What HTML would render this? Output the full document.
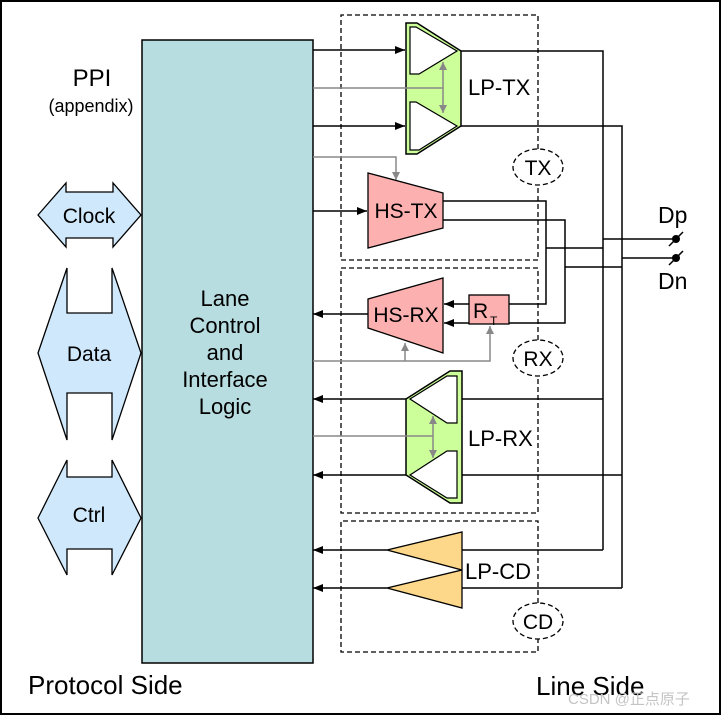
<!DOCTYPE html><html><head><style>body{margin:0;background:#fff}svg{display:block}text{font-family:"Liberation Sans","Noto Sans CJK SC",sans-serif}</style></head><body>
<svg width="721" height="716" viewBox="0 0 721 716" xmlns="http://www.w3.org/2000/svg">
<defs>
<marker id="a" markerWidth="10" markerHeight="8" refX="10" refY="4" orient="auto" markerUnits="userSpaceOnUse"><path d="M0,0L10,4L0,8z" fill="#000"/></marker>
<marker id="g" markerWidth="8" markerHeight="8" refX="8" refY="4" orient="auto-start-reverse" markerUnits="userSpaceOnUse"><path d="M0,0L8,4L0,8z" fill="#888"/></marker>
</defs>
<rect x="1" y="1" width="719" height="713" fill="#fff" stroke="#000" stroke-width="2"/>
<g fill="#cfe8fb" stroke="#000" stroke-width="1.3">
<path d="M38,215L66,183V192H113V183L141,215L113,247V238H66V247Z"/>
<path d="M38,353L67,268V313H112V268L141,353L112,440V393H67V440Z"/>
<path d="M38,518L67,460V477H112V460L141,518L112,575V549H67V575Z"/>
</g>
<text x="89" y="223" font-size="21" text-anchor="middle">Clock</text>
<text x="89" y="361" font-size="21" text-anchor="middle">Data</text>
<text x="89" y="522" font-size="21" text-anchor="middle">Ctrl</text>
<text x="92" y="86" font-size="24" text-anchor="middle">PPI</text>
<text x="91" y="112" font-size="18" text-anchor="middle">(appendix)</text>
<rect x="142" y="40" width="171" height="623" fill="#b8dde0" stroke="#000" stroke-width="1.5"/>
<g font-size="22" text-anchor="middle"><text x="225" y="306">Lane</text><text x="225" y="333">Control</text><text x="225" y="360">and</text><text x="225" y="387">Interface</text><text x="225" y="414">Logic</text></g>
<g fill="none" stroke="#000" stroke-width="1.3" stroke-dasharray="5,3">
<path d="M538,149V15H341V260H538V185"/>
<ellipse cx="538" cy="167" rx="25" ry="18"/>
<path d="M538,340V268H341V513H538V376"/>
<ellipse cx="538" cy="358" rx="25" ry="18"/>
<path d="M538,603V521H341V652H538V639"/>
<ellipse cx="538" cy="621" rx="25" ry="18"/>
</g>
<g font-size="21" text-anchor="middle"><text x="538" y="175">TX</text><text x="538" y="366">RX</text><text x="538" y="629">CD</text></g>
<g fill="none" stroke="#000" stroke-width="1.5">
<path d="M461,51H603V550"/><path d="M461,126H622V588"/>
<path d="M443,201H546V304H509"/><path d="M443,220H565V323H509"/>
<path d="M546,248H603"/><path d="M565,267H622"/>
<path d="M603,239H676"/><path d="M622,258H676"/>
<path d="M462,399H603"/><path d="M462,475H622"/>
<path d="M462,550H603"/><path d="M462,588H622"/>
<path d="M313,50H405" marker-end="url(#a)"/><path d="M313,126H405" marker-end="url(#a)"/>
<path d="M313,211H367" marker-end="url(#a)"/>
<path d="M368,314H313" marker-end="url(#a)"/>
<path d="M469,304H444" marker-end="url(#a)"/><path d="M469,323H444" marker-end="url(#a)"/>
<path d="M406,399H313" marker-end="url(#a)"/><path d="M406,475H313" marker-end="url(#a)"/>
<path d="M387,550H313" marker-end="url(#a)"/><path d="M387,588H313" marker-end="url(#a)"/>
<path d="M669,246L683,232M669,265L683,251"/>
</g>
<circle cx="676" cy="239" r="4"/><circle cx="676" cy="258" r="4"/>
<text x="658" y="223" font-size="23">Dp</text><text x="658" y="289" font-size="23">Dn</text>
<g fill="none" stroke="#888" stroke-width="1.5">
<path d="M313,157H396V180" marker-end="url(#g)"/>
<path d="M313,361H490V326" marker-end="url(#g)"/><path d="M405,361V343" marker-end="url(#g)"/>
</g>
<path d="M406,23H417L461,51V126L417,154H406Z" fill="#ccff99" stroke="#000" stroke-width="1.5"/>
<path d="M410,27H416L457,51L419,74H410Z M410,102H416L457,126L419,150H410Z" fill="#fff" stroke="#000" stroke-width="1.2"/>
<path d="M313,88H443" stroke="#888" stroke-width="1.5"/><path d="M443,62V113" stroke="#888" stroke-width="1.5" fill="none" marker-start="url(#g)" marker-end="url(#g)"/>
<text x="468" y="95" font-size="22">LP-TX</text>
<path d="M368,173L443,193V228L368,248Z" fill="#fcb0b0" stroke="#000" stroke-width="1.3"/>
<text x="406" y="218" font-size="21" text-anchor="middle">HS-TX</text>
<path d="M368,299L443,278V353L368,328Z" fill="#fcb0b0" stroke="#000" stroke-width="1.3"/>
<text x="406" y="322" font-size="21" text-anchor="middle">HS-RX</text>
<rect x="469" y="295" width="40" height="29" fill="#fcb0b0" stroke="#000" stroke-width="1.3"/>
<text x="473" y="318" font-size="21">R</text><text x="490" y="325" font-size="12">T</text>
<path d="M406,399L450,371H462V503H450L406,475Z" fill="#ccff99" stroke="#000" stroke-width="1.5"/>
<path d="M410,399L447,376H457V423H447Z M410,475L447,451H457V498H447Z" fill="#fff" stroke="#000" stroke-width="1.2"/>
<path d="M313,436H433" stroke="#888" stroke-width="1.5"/><path d="M433,416V458" stroke="#888" stroke-width="1.5" fill="none" marker-start="url(#g)" marker-end="url(#g)"/>
<text x="468" y="446" font-size="22">LP-RX</text>
<path d="M387,550L462,532V570Z M387,588L462,570V608Z" fill="#fdd78a" stroke="#000" stroke-width="1.3"/>
<text x="465" y="579" font-size="22">LP-CD</text>
<text x="28" y="694" font-size="26">Protocol Side</text>
<text x="536" y="695" font-size="26">Line Side</text>
<text x="568" y="704" font-size="15" fill="#c4c4c4">CSDN @正点原子</text>
</svg></body></html>
